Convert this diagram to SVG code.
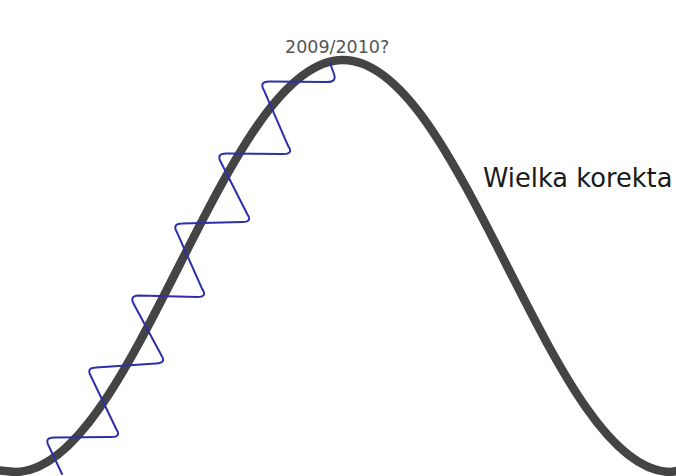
<svg xmlns="http://www.w3.org/2000/svg" width="676" height="476" viewBox="0 0 676 476">
  <style>
    .trend { fill: none; stroke: #444444; stroke-width: 8.5; stroke-linecap: round; }
    .wave { fill: none; stroke: #2e2eaa; stroke-width: 2; stroke-linejoin: round; stroke-linecap: round; }
    .lbl { font-family: "DejaVu Sans", "Liberation Sans", sans-serif; }
  </style>
  <rect x="0" y="0" width="676" height="476" fill="#ffffff"/>
  <g id="trend-curve">
    <path class="trend" d="M -6,470 L 15,472 C 74.4,472 125.5,371.5 179,266 C 232.5,160.5 283.6,60 343,60 C 402.4,60 453.5,160.5 507,266 C 560.5,371.5 611.6,472 671,472 L 682,470"/>
  </g>
  <g id="oscillation">
    <path class="wave" d="M 62,474 L 48.9,446.2 Q 44,437.5 54,437.5 L 111,437 Q 122,437 116.1,428.8 L 90.9,376.2 Q 86,367.5 96,367.5 L 156,363.5 Q 167,363 161.1,354.8 L 133.9,304.2 Q 129,295.5 139,295.5 L 197,297 Q 208,297 202.1,288.8 L 176.9,232.2 Q 172,223.5 182,223.5 L 242,222 Q 253,222 247.1,213.8 L 220.9,162.2 Q 216,153.5 226,153.5 L 283,154 Q 294,154 288.1,145.8 L 263.9,90.2 Q 259,81.5 269,81.5 L 327,82 Q 337,82 334,74 L 330,63"/>
  </g>
  <g id="label-peak">
    <text class="lbl" x="285" y="52.5" font-size="17.5" fill="#555555">2009/2010?</text>
  </g>
  <g id="label-correction">
    <text class="lbl" x="483" y="187" font-size="25.7" fill="#1a1a1a">Wielka korekta</text>
  </g>
</svg>
